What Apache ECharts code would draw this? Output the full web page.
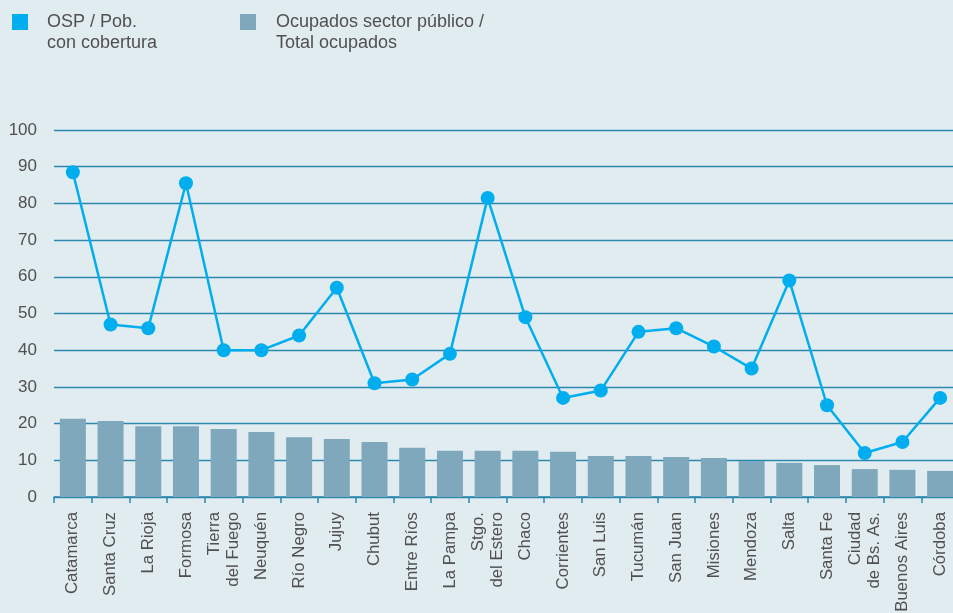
<!DOCTYPE html>
<html><head><meta charset="utf-8">
<script src="https://cdn.jsdelivr.net/npm/echarts@6/dist/echarts.min.js"></script>
<style>html,body{margin:0;padding:0;background:#e1ecf1;}#c{width:953px;height:613px;}</style>
</head><body><div id="c"></div>
<script>
const categories = ["Catamarca","Santa Cruz","La Rioja","Formosa","Tierra\ndel Fuego","Neuquén","Río Negro","Jujuy","Chubut","Entre Ríos","La Pampa","Stgo.\ndel Estero","Chaco","Corrientes","San Luis","Tucumán","San Juan","Misiones","Mendoza","Salta","Santa Fe","Ciudad\nde Bs. As.","Buenos Aires","Córdoba"];
const ocupadosPublico = [21.3,20.7,19.3,19.3,18.5,17.7,16.3,15.8,15.0,13.4,12.6,12.6,12.6,12.3,11.2,11.2,10.9,10.6,9.8,9.3,8.7,7.6,7.4,7.1];
const ospPob = [88.5,47,46,85.5,40,40,44,57,31,32,39,81.5,49,27,29,45,46,41,35,59,25,12,15,27];
const yTicks = [0,10,20,30,40,50,60,70,80,90,100];
const seriesNames = ["OSP / Pob.\ncon cobertura","Ocupados sector público /\nTotal ocupados"];

const lineColor = '#00aeef', barColor = '#7fa8bd', gridColor = '#2a87ad', textColor = '#505050';
const FONT = '"Liberation Sans", Arial, sans-serif';
const chart = echarts.init(document.getElementById('c'));
chart.setOption({
  backgroundColor: '#e1ecf1',
  animation: false,
  textStyle: {fontFamily: FONT},
  graphic: [
    {type:'rect', left:12, top:14, shape:{width:16,height:16}, style:{fill:lineColor}},
    {type:'text', left:47, top:12, style:{text:seriesNames[0], fill:textColor, font:'18px ' + FONT, lineHeight:21}},
    {type:'rect', left:240, top:14, shape:{width:16,height:16}, style:{fill:barColor}},
    {type:'text', left:276, top:12, style:{text:seriesNames[1], fill:textColor, font:'18px ' + FONT, lineHeight:21}}
  ],
  grid: {left:54, width:905, top:130, height:367, containLabel:false, outerBoundsMode:'none'},
  xAxis: {
    type:'category', data:categories,
    axisLine:{show:true, lineStyle:{color:gridColor, width:1.5}},
    axisTick:{show:true, length:6, lineStyle:{color:gridColor, width:1.5}},
    axisLabel:{rotate:90, color:textColor, fontSize:16.8, lineHeight:19, margin:15, interval:0}
  },
  yAxis: {
    type:'value', min:0, max:100, interval:10,
    axisLine:{show:false}, axisTick:{show:false},
    axisLabel:{color:textColor, fontSize:17, margin:17, formatter: v => yTicks.includes(v) ? String(v) : ''},
    splitLine:{lineStyle:{color:gridColor, width:1.3}}
  },
  series: [
    {name:seriesNames[1], type:'bar', data:ocupadosPublico, barWidth:'69%', itemStyle:{color:barColor}, z:2},
    {name:seriesNames[0], type:'line', data:ospPob, symbol:'circle', symbolSize:14, lineStyle:{color:lineColor, width:2.5}, itemStyle:{color:lineColor}, z:3}
  ]
});
</script></body></html>
